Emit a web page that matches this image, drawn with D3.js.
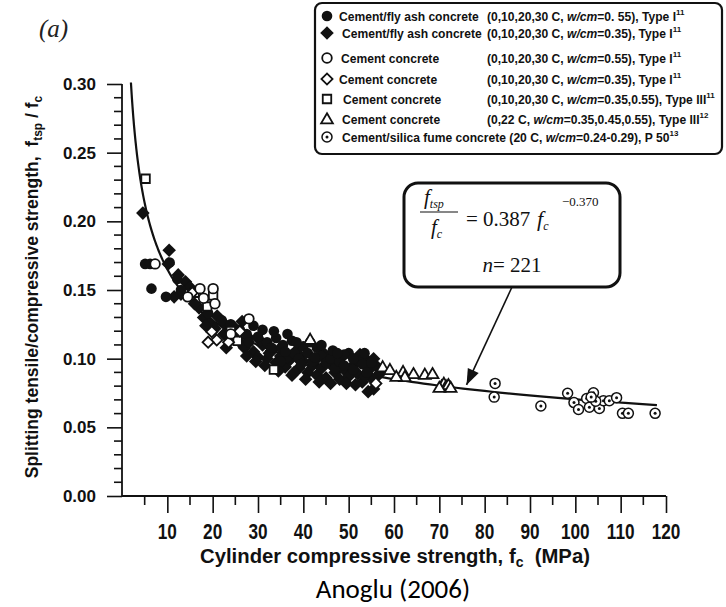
<!DOCTYPE html>
<html><head><meta charset="utf-8">
<script src="https://cdn.jsdelivr.net/npm/d3@7"></script>
<style>body{margin:0;background:#fff}</style>
</head><body>
<svg id="chart" width="726" height="607"></svg>
<script>
// ---------- data ----------
const xMajorTicks = [10,20,30,40,50,60,70,80,90,100,110,120];
const xMinorTicks = [5,15,25,35,45,55,65,75,85,95,105,115];
const yMajorTicks = [0,0.05,0.10,0.15,0.20,0.25,0.30];
const yMinorTicks = [0.01,0.02,0.03,0.04,0.06,0.07,0.08,0.09,0.11,0.12,0.13,0.14,0.16,0.17,0.18,0.19,0.21,0.22,0.23,0.24,0.26,0.27,0.28,0.29];
const fitCoef = 0.387;
const fitExp = -0.370;
const fitRange = [1.97, 118];
const nCount = 221;

const flyAsh055 = [[5.1,0.169],[6.2,0.169],[6.5,0.151],[9.7,0.145],[10.5,0.170],[12.2,0.158],[13,0.150],[19,0.133],[22,0.128],[24,0.125],[26,0.121],[27.5,0.118],[29,0.124],[31,0.121],[32,0.112],[33,0.108],[34,0.115],[35.5,0.110],[36.5,0.118],[37.5,0.113],[38,0.104],[39,0.100],[40,0.109],[41,0.104],[42,0.098],[43,0.108],[44,0.102],[45,0.097],[46,0.100],[47,0.093],[48,0.098],[49,0.095],[50,0.104],[51,0.092],[52,0.099],[53,0.096],[54,0.090],[30,0.116],[33.5,0.120],[36,0.105],[38.5,0.112],[41.5,0.112],[44,0.110],[46.5,0.106],[49,0.103],[51,0.100],[53.5,0.104],[55,0.097],[28,0.112],[25,0.115],[35,0.098],[39.5,0.096],[42.5,0.101],[47.5,0.104]];
const flyAsh035 = [[4.6,0.206],[10.4,0.179],[10.2,0.169],[12.4,0.161],[14,0.156],[15,0.152],[11.5,0.145],[17,0.137],[18,0.130],[19.5,0.126],[20.5,0.122],[21,0.131],[22.5,0.118],[24,0.115],[25,0.122],[26,0.112],[27,0.108],[28,0.115],[29,0.105],[30,0.101],[31,0.110],[32,0.100],[33,0.106],[34,0.097],[35,0.102],[36,0.094],[37,0.099],[37.5,0.088],[38.5,0.106],[39,0.093],[40,0.098],[41,0.090],[42,0.095],[43,0.088],[44,0.093],[45,0.086],[46,0.096],[47,0.090],[48,0.085],[49,0.092],[50,0.087],[51,0.095],[52,0.089],[53,0.083],[54,0.099],[54.5,0.092],[55,0.086],[55.5,0.078],[54.3,0.076],[56,0.095],[56.5,0.088],[52.5,0.103],[48.5,0.101],[44.5,0.104],[35,0.108],[30.5,0.113],[26.5,0.127],[23,0.124],[31.5,0.095],[34.5,0.091],[38,0.090],[40.5,0.085],[43.5,0.083],[46,0.082],[49.5,0.082],[51.5,0.081],[53.5,0.087],[47,0.097],[43,0.100],[39,0.103],[36.5,0.101],[32.5,0.104],[29.5,0.098],[27.5,0.102],[23,0.108],[18.5,0.124],[16,0.140],[13,0.147],[55.5,0.100],[57,0.090]];
const cement055 = [[7.3,0.169],[17.2,0.151],[20.1,0.151],[18,0.144],[14.5,0.145],[20.5,0.140],[28,0.129],[24,0.118]];
const cement035 = [[15.5,0.148],[19.8,0.1196],[20.9,0.1136],[19,0.112],[23.5,0.112],[26,0.120],[56,0.082]];
const cementTypeIII = [[5.2,0.231],[18.8,0.138],[20.1,0.146],[16,0.148],[25.5,0.113],[33.5,0.092],[24,0.120]];
const cementTypeIII22 = [[41.5,0.114],[57.5,0.094],[59.1,0.092],[62,0.0905],[64.3,0.089],[66.8,0.0885],[68.5,0.089],[62.4,0.0869],[60.5,0.087],[70.5,0.080],[71,0.082],[71.5,0.080],[72,0.081],[72.5,0.079],[70,0.079]];
const silicaFume = [[82.3,0.082],[82.1,0.072],[92.4,0.0655],[98.3,0.0748],[99.7,0.068],[100.7,0.063],[102.5,0.071],[103.1,0.0646],[104,0.0752],[105.3,0.0638],[106.2,0.0694],[107.5,0.0694],[109.1,0.0716],[110.4,0.0602],[111.7,0.0602],[117.6,0.0602],[104.5,0.069],[103.5,0.072]];

const legendLabels = [
  ["Cement/fly ash concrete", "(0,10,20,30 C, ", "=0. 55), Type I", "11"],
  ["Cement/fly ash concrete", "(0,10,20,30 C, ", "=0.35), Type I", "11"],
  ["Cement concrete", "(0,10,20,30 C, ", "=0.55), Type I", "11"],
  ["Cement concrete", "(0,10,20,30 C, ", "=0.35), Type I", "11"],
  ["Cement concrete", "(0,10,20,30 C, ", "=0.35,0.55), Type III", "11"],
  ["Cement concrete", "(0,22 C, ", "=0.35,0.45,0.55), Type III", "12"],
  ["Cement/silica fume concrete (20 C, ", null, "=0.24-0.29), P 50", "13"]
];
const seriesKinds = ["fillCircle","fillDiamond","openCircle","openDiamond","openSquare","openTriangle","circleDot"];
const seriesData = [flyAsh055, flyAsh035, cement055, cement035, cementTypeIII, cementTypeIII22, silicaFume];

// ---------- drawing ----------
const svg = d3.select("#chart");
const ink = "#111";
const sans = "'Liberation Sans',Arial,sans-serif";
const serif = "'Liberation Serif','Times New Roman',serif";
const x = d3.scaleLinear().domain([0,120]).range([122,666]);
const y = d3.scaleLinear().domain([0,0.30]).range([496,84]);

function marker(g, kind) {
  if (kind === "fillCircle") g.append("circle").attr("r",5.3).attr("fill",ink);
  else if (kind === "openCircle") g.append("circle").attr("r",4.8).attr("fill","#fff").attr("stroke",ink).attr("stroke-width",1.8);
  else if (kind === "fillDiamond") g.append("path").attr("d", d3.symbol(d3.symbolSquare, 92)()).attr("transform","rotate(45)").attr("fill",ink);
  else if (kind === "openDiamond") g.append("path").attr("d", d3.symbol(d3.symbolSquare, 62)()).attr("transform","rotate(45)").attr("fill","#fff").attr("stroke",ink).attr("stroke-width",1.8);
  else if (kind === "openSquare") g.append("path").attr("d", d3.symbol(d3.symbolSquare, 72)()).attr("fill","#fff").attr("stroke",ink).attr("stroke-width",1.8);
  else if (kind === "openTriangle") g.append("path").attr("d", d3.symbol(d3.symbolTriangle, 60)()).attr("transform","translate(0,1)").attr("fill","#fff").attr("stroke",ink).attr("stroke-width",1.8);
  else if (kind === "circleDot") { g.append("circle").attr("r",5).attr("fill","#fff").attr("stroke",ink).attr("stroke-width",1.5); g.append("circle").attr("r",1.5).attr("fill",ink); }
}

// x axis
const xAxis = svg.append("g").attr("transform","translate(0,496)")
  .call(d3.axisBottom(x).tickValues(xMajorTicks).tickSize(17).tickSizeOuter(0).tickFormat(d3.format("d")));
xAxis.selectAll("text").remove();
xAxis.append("g").selectAll("line").data(xMinorTicks).join("line")
  .attr("x1",d=>x(d)).attr("x2",d=>x(d)).attr("y1",0).attr("y2",9);
xAxis.select(".domain").attr("d", `M${x(0)},0H${x(120)}`).attr("stroke",ink).attr("stroke-width",1.8);
xAxis.selectAll("line").attr("stroke",ink).attr("stroke-width",1.6);
svg.append("g").selectAll("text").data(xMajorTicks).join("text")
  .attr("transform",d=>`translate(${x(d)},539) scale(0.8,1)`).attr("text-anchor","middle")
  .attr("font-family",sans).attr("font-weight","bold").attr("font-size",21.5).attr("fill",ink).text(d=>d);

// y axis
const yAxis = svg.append("g").attr("transform","translate(122,0)")
  .call(d3.axisLeft(y).tickValues(yMajorTicks).tickSize(15).tickSizeOuter(0).tickFormat(d3.format(".2f")).tickPadding(11));
yAxis.append("g").selectAll("line").data(yMinorTicks).join("line")
  .attr("x1",-8).attr("x2",0).attr("y1",d=>y(d)).attr("y2",d=>y(d));
yAxis.select(".domain").attr("d", `M0,${y(0)}V${y(0.30)}`).attr("stroke",ink).attr("stroke-width",1.8);
yAxis.selectAll("line").attr("stroke",ink).attr("stroke-width",1.6);
yAxis.selectAll("text").attr("font-family",sans).attr("font-weight","bold").attr("font-size",17).attr("fill",ink);

// fit curve
const fitPts = d3.range(0,201).map(i => {
  const t = fitRange[0] * Math.pow(fitRange[1]/fitRange[0], i/200);
  return [t, fitCoef*Math.pow(t, fitExp)];
});
svg.append("path").datum(fitPts)
  .attr("d", d3.line().x(d=>x(d[0])).y(d=>y(d[1])))
  .attr("fill","none").attr("stroke",ink).attr("stroke-width",2.2);

// points
const drawOrder = [1,0,4,3,2,5,6];
drawOrder.forEach(si => {
  svg.append("g").selectAll("g").data(seriesData[si]).join("g")
    .attr("transform", d => `translate(${x(d[0])},${y(d[1])})`)
    .each(function(){ marker(d3.select(this), seriesKinds[si]); });
});

// legend
const lg = svg.append("g");
lg.append("rect").attr("x",315).attr("y",3).attr("width",407).attr("height",151).attr("rx",7)
  .attr("fill","#fff").attr("stroke",ink).attr("stroke-width",2.2);
const rowY = [16,33,58,79,99,119,137];
const nameX = [339,342,341,339,343,342,342];
legendLabels.forEach((lab,i) => {
  const g = lg.append("g").attr("transform",`translate(327,${rowY[i]})`);
  marker(g, seriesKinds[i]);
  const fs = 12.1;
  let t = lg.append("text").attr("x",nameX[i]).attr("y",rowY[i]+4.5).attr("font-family",sans)
    .attr("font-weight","bold").attr("font-size",fs).attr("fill",ink);
  if (lab[1] !== null) {
    t.text(lab[0]);
    t = lg.append("text").attr("x",487).attr("y",rowY[i]+4.5).attr("font-family",sans)
      .attr("font-weight","bold").attr("font-size",fs).attr("fill",ink);
    t.append("tspan").text(lab[1]);
  } else {
    t.append("tspan").text(lab[0]);
  }
  t.append("tspan").attr("font-style","italic").text("w/cm");
  t.append("tspan").text(lab[2]);
  t.append("tspan").attr("font-size",8).attr("dy",-6).text(lab[3]);
});

// equation box + arrow
const eq = svg.append("g");
eq.append("rect").attr("x",404).attr("y",183).attr("width",216).attr("height",104).attr("rx",14)
  .attr("fill","#fff").attr("stroke",ink).attr("stroke-width",3);
const num = eq.append("text").attr("x",424).attr("y",204).attr("font-family",serif).attr("font-size",21).attr("font-style","italic").attr("fill",ink);
num.append("tspan").text("f");
num.append("tspan").attr("font-size",12).attr("dy",4).text("tsp");
eq.append("line").attr("x1",420).attr("x2",458).attr("y1",212).attr("y2",212).attr("stroke",ink).attr("stroke-width",1.2);
const den = eq.append("text").attr("x",431).attr("y",234).attr("font-family",serif).attr("font-size",21).attr("font-style","italic").attr("fill",ink);
den.append("tspan").text("f");
den.append("tspan").attr("font-size",12).attr("dy",4).text("c");
const rhs = eq.append("text").attr("y",226).attr("font-family",serif).attr("font-size",21).attr("fill",ink);
rhs.append("tspan").attr("x",466).text("= " + fitCoef);
rhs.append("tspan").attr("x",537).attr("font-style","italic").attr("font-size",22).text("f");
rhs.append("tspan").attr("font-style","italic").attr("font-size",12).attr("dy",4).text("c");
rhs.append("tspan").attr("x",562).attr("font-size",13).attr("dy",-24).text("\u2212" + Math.abs(fitExp).toFixed(3));
const nt = eq.append("text").attr("x",512).attr("y",272).attr("text-anchor","middle").attr("font-family",serif).attr("font-size",21).attr("fill",ink);
nt.append("tspan").attr("font-style","italic").text("n");
nt.append("tspan").text("= " + nCount);

const tipX = 76;
const tip = [x(tipX), y(fitCoef*Math.pow(tipX, fitExp)) - 4];
const start = [512, 287];
eq.append("line").attr("x1",start[0]).attr("y1",start[1]).attr("x2",tip[0]).attr("y2",tip[1]).attr("stroke",ink).attr("stroke-width",1.6);
const ang = Math.atan2(tip[1]-start[1], tip[0]-start[0]);
const ah = 16, aw = 6;
const bx = tip[0]-ah*Math.cos(ang), by = tip[1]-ah*Math.sin(ang);
eq.append("path").attr("d",`M${tip[0]},${tip[1]}L${bx - aw*Math.sin(ang)},${by + aw*Math.cos(ang)}L${bx + aw*Math.sin(ang)},${by - aw*Math.cos(ang)}Z`).attr("fill",ink);

// titles
const yl = svg.append("text").attr("transform","translate(38,287) rotate(-90)").attr("text-anchor","middle")
  .attr("font-family",sans).attr("font-weight","bold").attr("font-size",17.5).attr("fill",ink);
yl.append("tspan").text("Splitting tensile/compressive strength,\u00a0\u00a0f");
yl.append("tspan").attr("font-size",12).attr("dy",4).text("tsp");
yl.append("tspan").attr("dy",-4).text(" / f");
yl.append("tspan").attr("font-size",12).attr("dy",4).text("c");

const xl = svg.append("text").attr("x",395).attr("y",563).attr("text-anchor","middle")
  .attr("font-family",sans).attr("font-weight","bold").attr("font-size",20.3).attr("fill",ink);
xl.append("tspan").text("Cylinder compressive strength, f");
xl.append("tspan").attr("font-size",14).attr("dy",4).text("c");
xl.append("tspan").attr("dy",-4).text("\u00a0\u00a0(MPa)");

svg.append("text").attr("x",393).attr("y",598).attr("text-anchor","middle")
  .attr("font-family","Carlito,Lato,'Open Sans',sans-serif").attr("font-size",27).attr("fill","#000").text("Anoglu (2006)");

svg.append("text").attr("x",39).attr("y",37).attr("font-family",serif)
  .attr("font-style","italic").attr("font-size",25).attr("fill","#222").text("(a)");
</script>
</body></html>
